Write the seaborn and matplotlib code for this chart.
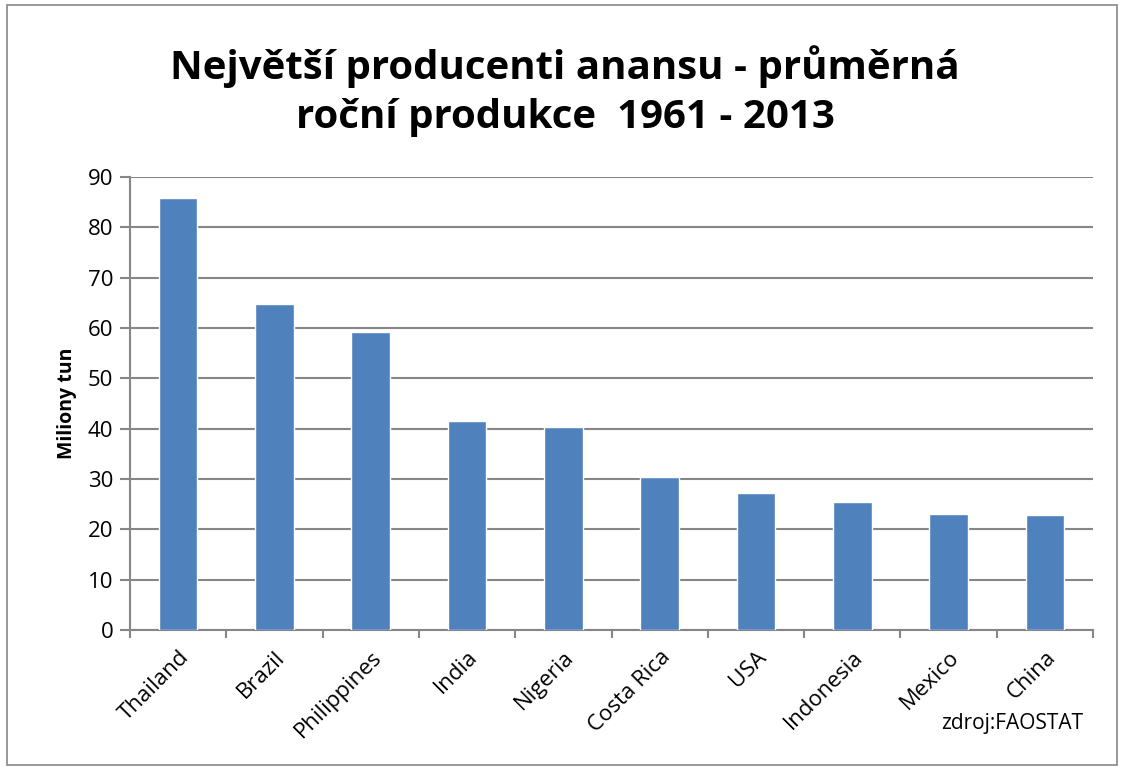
import matplotlib
matplotlib.use('Agg')
import matplotlib.pyplot as plt
import seaborn as sns
import pandas as pd
from matplotlib.patches import Rectangle
from matplotlib.ticker import FixedLocator

zeme = ['Thailand', 'Brazil', 'Philippines', 'India', 'Nigeria',
        'Costa Rica', 'USA', 'Indonesia', 'Mexico', 'China']
produkce = [85.8, 64.8, 59.3, 41.6, 40.4, 30.3, 27.2, 25.5, 23.1, 22.9]

df = pd.DataFrame({'zeme': zeme, 'produkce': produkce})

sns.set_style('white')
plt.rcParams['font.family'] = ['Open Sans', 'DejaVu Sans']
plt.rcParams['text.color'] = 'black'
plt.rcParams['xtick.color'] = 'black'
plt.rcParams['ytick.color'] = 'black'
plt.rcParams['axes.labelcolor'] = 'black'

fig = plt.figure(figsize=(11.21, 7.67), dpi=100)
ax = fig.add_axes([130 / 1121, 1 - 630 / 767, (1093 - 130) / 1121, (630 - 177) / 767])

sns.barplot(data=df, x='zeme', y='produkce', color='#4F81BD', width=0.4,
            saturation=1, ax=ax, zorder=3)

ax.set_ylim(0, 90)
ax.set_xlim(-0.5, len(zeme) - 0.5)
ax.set_yticks(range(0, 91, 10))
ax.yaxis.grid(True, color='#868686', linewidth=1.5, zorder=0)
ax.set_axisbelow(True)
for s in ['top', 'right']:
    ax.spines[s].set_visible(False)
for s in ['left', 'bottom']:
    ax.spines[s].set_color('#868686')
    ax.spines[s].set_linewidth(1.5)

ax.tick_params(axis='y', direction='out', length=7, width=1.5, color='#868686',
               labelsize=16, pad=5, left=True)
ax.set_xticks(range(len(zeme)))
ax.set_xticklabels(zeme, rotation=45, ha='right', va='top', rotation_mode='anchor',
                   fontsize=16)
ax.tick_params(axis='x', length=0, pad=12)
ax.xaxis.set_minor_locator(FixedLocator([i - 0.5 for i in range(len(zeme) + 1)]))
ax.tick_params(axis='x', which='minor', direction='out', length=6, width=1.5,
               color='#868686', bottom=True)

ax.set_xlabel('')
ax.set_ylabel('Miliony tun', fontsize=14, fontweight='bold', labelpad=8)

fig.text(565 / 1121, 1 - 91 / 767,
         'Největší producenti anansu - průměrná\nroční produkce  1961 - 2013',
         ha='center', va='center', fontsize=29, fontweight='bold',
         linespacing=1.35)
fig.text(1083 / 1121, 1 - 723 / 767, 'zdroj:FAOSTAT', ha='right', va='center',
         fontsize=15)

fig.patches.append(Rectangle((7 / 1121, 2 / 767), 1110 / 1121, 760 / 767,
                             transform=fig.transFigure, fill=False,
                             edgecolor='#868686', linewidth=1.2))

fig.savefig('out.png', dpi=100)
